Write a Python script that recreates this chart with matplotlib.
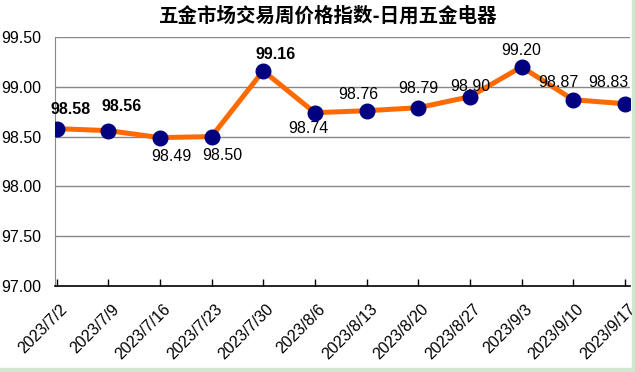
import matplotlib
matplotlib.use("Agg")
import matplotlib.pyplot as plt
import matplotlib.transforms as mtransforms
from matplotlib.patches import Rectangle

title = "五金市场交易周价格指数-日用五金电器"
dates = ["2023/7/2", "2023/7/9", "2023/7/16", "2023/7/23", "2023/7/30", "2023/8/6",
         "2023/8/13", "2023/8/20", "2023/8/27", "2023/9/3", "2023/9/10", "2023/9/17"]
values = [98.58, 98.56, 98.49, 98.50, 99.16, 98.74, 98.76, 98.79, 98.90, 99.20, 98.87, 98.83]
yticks = [97.00, 97.50, 98.00, 98.50, 99.00, 99.50]
# label offsets in pixels (dx, dy)
label_offsets = [(14, 19), (13, 24), (12, -19), (11, -19), (12, 16), (-6, -16),
                 (-8, 16), (0, 19), (0, 10), (0, 16), (-15, 17), (-16, 21)]
label_bold = [True, True, False, False, True, False, False, False, False, False, False, False]

plt.rcParams['font.family'] = ['Liberation Sans', 'DejaVu Sans']

fig = plt.figure(figsize=(6.35, 3.72), dpi=100)
fig.patch.set_facecolor('white')
# spreadsheet strips
fig.patches.append(Rectangle((0, 0), 1, 4/372, transform=fig.transFigure, color='#cfe8cf', zorder=0))
fig.patches.append(Rectangle((632/635, 0), 3/635, 1, transform=fig.transFigure, color='#cfe8cf', zorder=0))

ax = fig.add_axes([55/635, 1 - 286/372, (630 - 55)/635, (286 - 37)/372])
x = list(range(len(values)))
ax.plot(x, values, color='#ff6a00', lw=3.6, zorder=3, solid_capstyle='round')
ax.plot(x, values, 'o', color='#000080', markersize=10.5, zorder=4)

ax.set_ylim(97.0, 99.5)
ax.set_xlim(-0.03, 11.1)
ax.set_yticks(yticks)
ax.set_yticklabels([f"{v:.2f}" for v in yticks], fontsize=11.5)
for yv in yticks[1:]:
    ax.axhline(yv, color='#888888', lw=1, zorder=1)

ax.spines['top'].set_visible(False)
ax.spines['right'].set_visible(False)
ax.spines['left'].set_color('#888888')
ax.spines['bottom'].set_color('black')
ax.spines['bottom'].set_linewidth(1.2)
ax.tick_params(axis='y', length=0, pad=10)
ax.tick_params(axis='x', direction='in', length=5, width=1, color='black', pad=2)
ax.set_xticks(x)
ax.set_xticklabels(dates, fontsize=11.5, rotation=45, ha='right', va='top', rotation_mode='anchor')
offset = mtransforms.ScaledTranslation(3/100, -13/100, fig.dpi_scale_trans)
for lab in ax.get_xticklabels():
    lab.set_transform(lab.get_transform() + offset)

for xi, v, (dx, dy), b in zip(x, values, label_offsets, label_bold):
    ax.annotate(f"{v:.2f}", (xi, v), xytext=(dx, dy), textcoords='offset pixels',
                ha='center', va='center', fontsize=11.5,
                fontweight='bold' if b else 'normal', color='black', zorder=5,
                annotation_clip=False)

fig.text(328/635, 1 - 16/372, title, ha='center', va='center', fontsize=14,
         family=['Noto Sans CJK SC', 'DejaVu Sans'], fontweight='bold')

fig.savefig("out.png", dpi=100)
